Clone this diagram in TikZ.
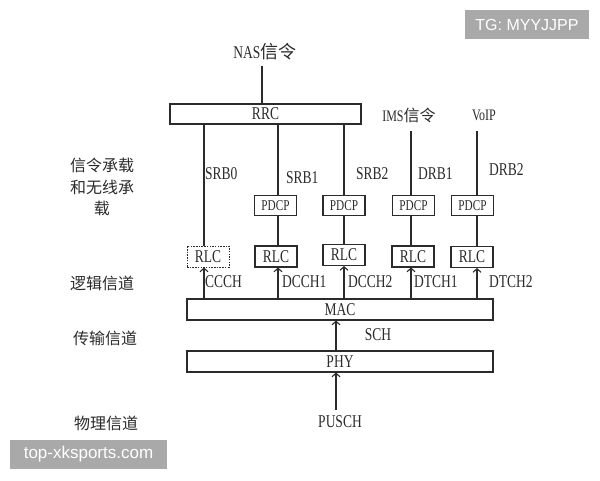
\documentclass[tikz,border=0pt]{standalone}
\usepackage{fontspec}
\setmainfont{Liberation Serif}[FakeStretch=0.75]
\newfontfamily\cjk{Noto Sans CJK SC}
\newfontfamily\wmfont{Liberation Sans}
\usetikzlibrary{arrows.meta}
\definecolor{ink}{HTML}{2B2B2B}
\definecolor{wmgray}{HTML}{A9A9A9}
\newcommand\zh[1]{{\cjk #1}}
\begin{document}
\begin{tikzpicture}[x=1pt,y=-1pt,
  every node/.style={text=ink, font=\fontsize{18}{20}\selectfont, inner sep=0pt},
  box/.style={draw=ink, line width=1.1pt, minimum width=42pt, minimum height=21pt},
  smallbox/.style={box, minimum height=20pt, font=\fontsize{15}{17}\selectfont},
  dotbox/.style={box, dash pattern=on 1.5pt off 1.2pt, line width=1pt},
  wide/.style={box, minimum width=306pt},
  ln/.style={draw=ink, line width=1.1pt},
  arr/.style={ln, -{Straight Barb[length=3.5pt,width=8pt]}},
  lbl/.style={anchor=west},
  zhl/.style={font=\fontsize{16}{21.5}\selectfont\cjk, align=center},
  wm/.style={fill=wmgray, text=white, font=\fontsize{16}{18}\selectfont\wmfont, minimum height=29pt}
]
\fill[white] (0,0) rectangle (600,480);
\useasboundingbox (0,0) rectangle (600,480);

% column coordinates
\coordinate (cn) at (262,66);
\coordinate (c0) at (204,0);
\coordinate (c1) at (278,0);
\coordinate (c2) at (344,0);
\coordinate (c3) at (411,131);
\coordinate (c4) at (477,131);
\coordinate (cm) at (336,410);

% top texts
\node (nas) at (265,52) {NAS\zh{信令}};
\node (ims) at (409,115) {\fontsize{16}{18}\selectfont IMS\zh{信令}};
\node (voip) at (484,115) {\fontsize{16}{18}\selectfont VoIP};

% boxes
\node[box, minimum width=191pt, minimum height=20pt] (rrc) at (265.5,114) {RRC};
\node[smallbox] (pdcp1) at (275.5,205.5) {PDCP};
\node[smallbox] (pdcp2) at (344,205.5) {PDCP};
\node[smallbox] (pdcp3) at (413.5,205.5) {PDCP};
\node[smallbox] (pdcp4) at (472.5,205.5) {PDCP};
\node[dotbox] (rlc0) at (208,256.5) {RLC};
\node[box] (rlc1) at (276,256.5) {RLC};
\node[box] (rlc2) at (344,255) {RLC};
\node[box] (rlc3) at (413,256.5) {RLC};
\node[box] (rlc4) at (472,257) {RLC};
\node[wide] (mac) at (340,309.5) {MAC};
\node[wide] (phy) at (340,361.5) {PHY};

% bearer labels
\node[lbl] (srb0) at (205,174) {SRB0};
\node[lbl] (srb1) at (286,178) {SRB1};
\node[lbl] (srb2) at (356,174) {SRB2};
\node[lbl] (drb1) at (418,174) {DRB1};
\node[lbl] (drb2) at (489,170) {DRB2};

% channel labels
\node[lbl] (ccch) at (205,282) {CCCH};
\node[lbl] (dcch1) at (282,282) {DCCH1};
\node[lbl] (dcch2) at (348,282) {DCCH2};
\node[lbl] (dtch1) at (414,282) {DTCH1};
\node[lbl] (dtch2) at (489,282) {DTCH2};
\node (sch) at (378,335) {SCH};
\node (pusch) at (340,422) {PUSCH};

% left labels
\node[zhl] (l1) at (102,187) {信令承载\\和无线承\\载};
\node[zhl] (l2) at (102,283) {逻辑信道};
\node[zhl] (l3) at (105,338) {传输信道};
\node[zhl] (l4) at (106,423) {物理信道};

% connectors
\draw[ln] (cn) -- (rrc.north -| cn);
\draw[ln] (rrc.south -| c0) -- (rlc0.north -| c0);
\draw[ln] (rrc.south -| c1) -- (pdcp1.north -| c1);
\draw[ln] (rrc.south -| c2) -- (pdcp2.north -| c2);
\draw[ln] (c3) -- (pdcp3.north -| c3);
\draw[ln] (c4) -- (pdcp4.north -| c4);
\draw[ln] (pdcp1.south -| c1) -- (rlc1.north -| c1);
\draw[ln] (pdcp2.south -| c2) -- (rlc2.north -| c2);
\draw[ln] (pdcp3.south -| c3) -- (rlc3.north -| c3);
\draw[ln] (pdcp4.south -| c4) -- (rlc4.north -| c4);
\draw[arr] (mac.north -| c0) -- (rlc0.south -| c0);
\draw[arr] (mac.north -| c1) -- (rlc1.south -| c1);
\draw[arr] (mac.north -| c2) -- (rlc2.south -| c2);
\draw[arr] (mac.north -| c3) -- (rlc3.south -| c3);
\draw[arr] (mac.north -| c4) -- (rlc4.south -| c4);
\draw[arr] (phy.north -| cm) -- (mac.south -| cm);
\draw[arr] (cm) -- (phy.south -| cm);

% watermarks
\node[wm, minimum width=124pt] (wm1) at (527,24.5) {TG: MYYJJPP};
\node[wm, minimum width=157pt, font=\fontsize{17}{19}\selectfont\wmfont] (wm2) at (88.5,454.5) {top-xksports.com};
\end{tikzpicture}
\end{document}
